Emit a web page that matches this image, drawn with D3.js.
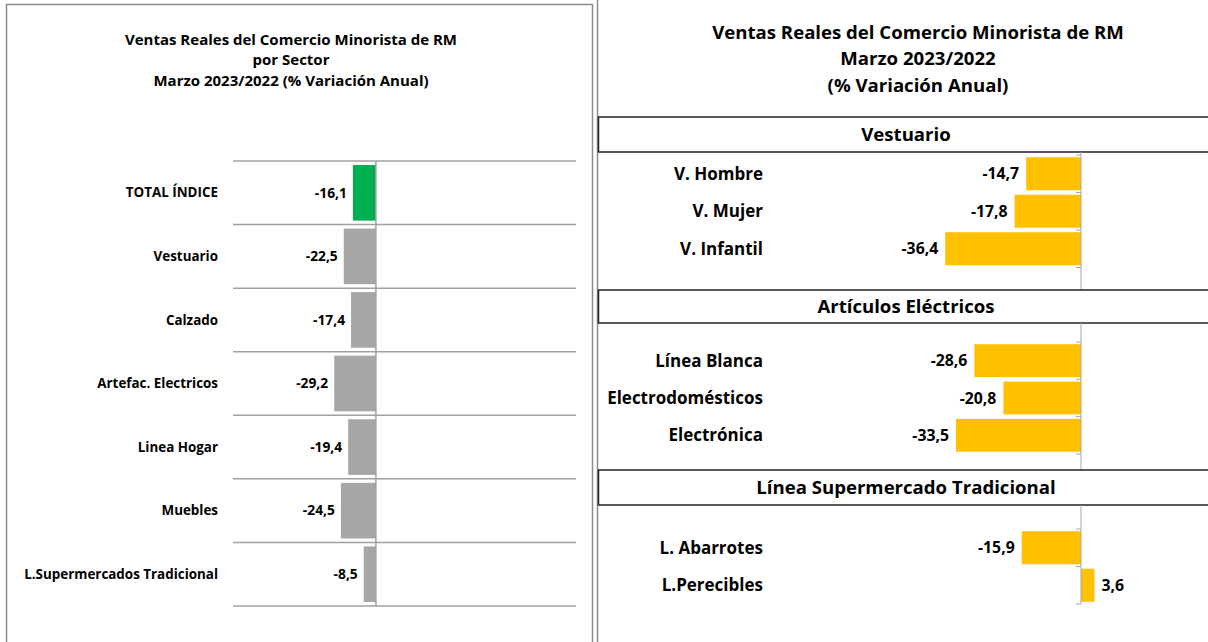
<head>
    <meta charset="utf-8">
    <script src="https://d3js.org/d3.v7.min.js"></script>
    <style>
        body { margin: 0; background: #fff; }
        svg { display: block; font-family: "Open Sans", Lato, sans-serif; font-weight: bold; }
    </style>
</head>
<body>
<svg width="1208" height="642"></svg>
<script>

    // left chart: sectors
    var sectorNames = ["TOTAL ÍNDICE", "Vestuario", "Calzado", "Artefac. Electricos", "Linea Hogar", "Muebles", "L.Supermercados Tradicional"];
    var sectorValues = [-16.1, -22.5, -17.4, -29.2, -19.4, -24.5, -8.5];
    var leftTitle = ["Ventas Reales del Comercio Minorista de RM", "por Sector", "Marzo 2023/2022 (% Variación Anual)"];

    // right chart: sub-sectors
    var rightTitle = ["Ventas Reales del Comercio Minorista de RM", "Marzo 2023/2022", "(% Variación Anual)"];
    var groupTitles = ["Vestuario", "Artículos Eléctricos", "Línea Supermercado Tradicional"];
    var vestuarioNames = ["V. Hombre", "V. Mujer", "V. Infantil"];
    var vestuarioValues = [-14.7, -17.8, -36.4];
    var electricosNames = ["Línea Blanca", "Electrodomésticos", "Electrónica"];
    var electricosValues = [-28.6, -20.8, -33.5];
    var superNames = ["L. Abarrotes", "L.Perecibles"];
    var superValues = [-15.9, 3.6];

    var fmt = v => v.toFixed(1).replace(".", ",");
    var svg = d3.select("svg");

    //
    // left panel
    //

    svg.append("rect")
        .attr("x", 6.5).attr("y", 4.5).attr("width", 586).attr("height", 660)
        .attr("fill", "none").attr("stroke", "#8c8c8c").attr("stroke-width", 1.5);

    svg.append("g").selectAll("text")
        .data(leftTitle)
        .enter().append("text")
        .attr("x", 291).attr("y", (d, i) => 44.5 + i * 20.6)
        .attr("text-anchor", "middle")
        .style("font-size", "15px")
        .text(d => d);

    var lx = d3.scaleLinear().domain([-100, 140]).range([233, 576]);
    var ly = d3.scaleBand().domain(sectorNames).range([161, 606])
        .paddingInner(0.125).paddingOuter(0.0625);

    var grid = d3.range(sectorNames.length + 1).map(i => 161 + i * ly.step());

    svg.append("g").selectAll("line")
        .data(grid)
        .enter().append("line")
        .attr("x1", lx.range()[0]).attr("x2", lx.range()[1])
        .attr("y1", d => d).attr("y2", d => d)
        .attr("stroke", "#a0a0a0").attr("stroke-width", 1.5);

    svg.append("g").selectAll("rect")
        .data(sectorNames)
        .enter().append("rect")
        .attr("x", (d, i) => lx(Math.min(0, sectorValues[i])))
        .attr("y", d => ly(d))
        .attr("width", (d, i) => Math.abs(lx(sectorValues[i]) - lx(0)))
        .attr("height", ly.bandwidth())
        .attr("fill", (d, i) => i == 0 ? "#00b050" : "#a6a6a6");

    svg.append("line")
        .attr("x1", lx(0)).attr("x2", lx(0))
        .attr("y1", 161).attr("y2", 606)
        .attr("stroke", "#a0a0a0").attr("stroke-width", 1.5);

    svg.append("g").selectAll("text")
        .data(sectorNames)
        .enter().append("text")
        .attr("x", (d, i) => lx(sectorValues[i]) - 6)
        .attr("y", d => ly(d) + ly.bandwidth() / 2)
        .attr("dy", "0.35em")
        .attr("text-anchor", "end")
        .style("font-size", "13.8px")
        .text((d, i) => fmt(sectorValues[i]));

    svg.append("g").selectAll("text")
        .data(sectorNames)
        .enter().append("text")
        .attr("x", 218)
        .attr("y", d => ly(d) + ly.bandwidth() / 2)
        .attr("dy", "0.35em")
        .attr("text-anchor", "end")
        .style("font-size", "13.4px")
        .text(d => d);

    //
    // right panel
    //

    svg.append("line")
        .attr("x1", 597.5).attr("x2", 597.5).attr("y1", 0).attr("y2", 642)
        .attr("stroke", "#8c8c8c").attr("stroke-width", 1.5);

    svg.append("g").selectAll("text")
        .data(rightTitle)
        .enter().append("text")
        .attr("x", 918).attr("y", (d, i) => 38.5 + i * 26.5)
        .attr("text-anchor", "middle")
        .style("font-size", "18.6px")
        .text(d => d);

    var rx = d3.scaleLinear().domain([-40, 20]).range([931.8, 1155.6]);

    var sections = [
        {title: groupTitles[0], names: vestuarioNames, values: vestuarioValues, box: [117, 152], area: [152, 290], bands: [155, 267.5]},
        {title: groupTitles[1], names: electricosNames, values: electricosValues, box: [290, 323], area: [323, 470], bands: [342, 454]},
        {title: groupTitles[2], names: superNames, values: superValues, box: [470, 505], area: [505, 604], bands: [529, 604]}
    ];

    sections.forEach(function(s) {

        var g = svg.append("g");

        g.append("rect")
            .attr("x", 598.5).attr("y", s.box[0])
            .attr("width", 640).attr("height", s.box[1] - s.box[0])
            .attr("fill", "#fff").attr("stroke", "#222").attr("stroke-width", 1.5);

        g.append("text")
            .attr("x", 906).attr("y", (s.box[0] + s.box[1]) / 2)
            .attr("dy", "0.35em")
            .attr("text-anchor", "middle")
            .style("font-size", "18.6px")
            .text(s.title);

        var y = d3.scaleBand().domain(s.names).range(s.bands)
            .paddingInner(0.12).paddingOuter(0.06);

        g.selectAll(".bar")
            .data(s.names)
            .enter().append("rect")
            .attr("class", "bar")
            .attr("x", (d, i) => rx(Math.min(0, s.values[i])))
            .attr("y", d => y(d))
            .attr("width", (d, i) => Math.abs(rx(s.values[i]) - rx(0)))
            .attr("height", y.bandwidth())
            .attr("fill", "#ffc000");

        g.append("line")
            .attr("x1", rx(0)).attr("x2", rx(0))
            .attr("y1", s.area[0]).attr("y2", s.area[1])
            .attr("stroke", "#a6a6a6").attr("stroke-width", 1);

        g.selectAll(".tick")
            .data(d3.range(s.names.length + 1).map(i => s.bands[0] + i * y.step()))
            .enter().append("line")
            .attr("class", "tick")
            .attr("x1", rx(0) - 5).attr("x2", rx(0))
            .attr("y1", d => d).attr("y2", d => d)
            .attr("stroke", "#a6a6a6").attr("stroke-width", 1);

        g.selectAll(".val")
            .data(s.names)
            .enter().append("text")
            .attr("class", "val")
            .attr("x", (d, i) => s.values[i] < 0 ? rx(s.values[i]) - 7 : rx(s.values[i]) + 7)
            .attr("y", d => y(d) + y.bandwidth() / 2)
            .attr("dy", "0.35em")
            .attr("text-anchor", (d, i) => s.values[i] < 0 ? "end" : "start")
            .style("font-size", "15.8px")
            .text((d, i) => fmt(s.values[i]));

        g.selectAll(".cat")
            .data(s.names)
            .enter().append("text")
            .attr("class", "cat")
            .attr("x", 763)
            .attr("y", d => y(d) + y.bandwidth() / 2)
            .attr("dy", "0.35em")
            .attr("text-anchor", "end")
            .style("font-size", "17px")
            .text(d => d);
    });

</script>
</body>
